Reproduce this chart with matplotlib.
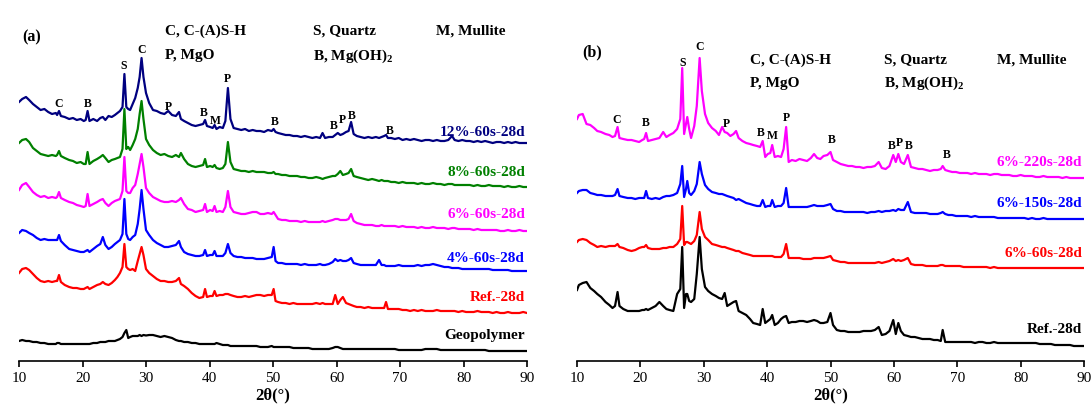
import matplotlib
matplotlib.use("Agg")
import matplotlib.pyplot as plt

plt.rcParams['font.family'] = ['Liberation Serif', 'DejaVu Serif']
plt.rcParams['mathtext.fontset'] = 'custom'
plt.rcParams['mathtext.rm'] = 'Liberation Serif'
plt.rcParams['mathtext.bf'] = 'Liberation Serif:bold'

# ---- panel (a): 2theta grid (deg) and stacked intensities (a.u.) ----
theta_a = [10.0, 10.5, 11.1, 11.6, 12.2, 12.8, 13.4, 14.0, 14.6, 15.2,
           15.8, 16.0, 16.3, 16.6, 17.2, 17.9, 18.5, 19.1, 19.7, 20.2,
           20.5, 20.8, 21.1, 21.7, 22.3, 22.8, 23.2, 23.6, 24.1, 24.6,
           25.1, 25.5, 25.9, 26.3, 26.6, 26.9, 27.2, 27.5, 27.9, 28.3,
           28.7, 29.0, 29.3, 29.6, 30.0, 30.5, 31.1, 31.7, 32.3, 32.9,
           33.5, 34.1, 34.7, 35.2, 35.5, 36.0, 36.6, 37.2, 37.8, 38.4,
           39.0, 39.3, 39.6, 40.1, 40.5, 40.8, 41.1, 41.6, 42.1, 42.5,
           42.9, 43.3, 43.8, 44.4, 45.0, 45.6, 46.2, 46.8, 47.4, 48.0,
           48.6, 49.2, 49.8, 50.1, 50.4, 50.8, 51.4, 52.0, 52.6, 53.2,
           53.8, 54.4, 55.0, 55.6, 56.2, 56.8, 57.4, 57.8, 58.2, 58.8,
           59.4, 59.8, 60.2, 60.6, 61.0, 61.5, 61.9, 62.3, 62.7, 63.2,
           63.8, 64.4, 65.0, 65.6, 66.2, 66.7, 67.1, 67.5, 67.8, 68.1,
           68.6, 69.2, 69.8, 70.4, 71.0, 71.6, 72.2, 72.8, 73.4, 74.0,
           74.6, 75.2, 75.8, 76.4, 77.0, 77.6, 78.2, 78.6, 79.2, 79.8,
           80.4, 81.0, 81.6, 82.2, 82.8, 83.4, 84.0, 84.6, 85.2, 85.8,
           86.4, 87.0, 87.6, 88.2, 88.8, 89.4, 90.0]

a_12 = [259, 262, 264, 261, 257, 254, 251, 252, 249, 247,
        248, 246, 250, 245, 244, 242, 243, 241, 242, 240,
        241, 250, 240, 242, 240, 243, 244, 241, 245, 244,
        246, 248, 250, 254, 287, 254, 252, 251, 257, 263,
        273, 284, 303, 284, 268, 258, 251, 250, 248, 247,
        250, 246, 245, 249, 242, 240, 238, 236, 235, 236,
        237, 241, 235, 234, 233, 236, 232, 234, 233, 240,
        273, 242, 233, 232, 231, 232, 230, 231, 230, 230,
        229, 231, 230, 232, 229, 228, 227, 226, 226, 225,
        225, 224, 225, 224, 223, 224, 223, 228, 223, 224,
        224, 226, 228, 226, 227, 229, 230, 239, 227, 225,
        224, 223, 224, 223, 224, 223, 224, 225, 226, 223,
        223, 222, 223, 221, 222, 221, 222, 221, 220, 221,
        221, 220, 221, 220, 220, 221, 225, 221, 220, 221,
        220, 220, 219, 220, 219, 220, 219, 218, 219, 219,
        218, 219, 218, 219, 218, 218, 218]

a_8 = [218, 221, 222, 219, 213, 210, 207, 206, 205, 206,
       205, 206, 210, 205, 203, 201, 200, 198, 199, 197,
       197, 209, 197, 200, 202, 204, 206, 203, 199, 201,
       202, 203, 204, 212, 252, 212, 214, 211, 216, 222,
       232, 247, 260, 242, 222, 216, 211, 208, 206, 207,
       205, 204, 206, 204, 208, 202, 197, 195, 194, 195,
       196, 202, 194, 195, 194, 196, 193, 192, 193, 197,
       219, 199, 192, 191, 190, 190, 189, 190, 189, 189,
       189, 188, 188, 189, 187, 187, 186, 186, 185, 185,
       185, 184, 184, 183, 183, 184, 183, 182, 183, 184,
       185, 185, 187, 190, 186, 187, 188, 192, 185, 184,
       183, 182, 181, 182, 181, 180, 181, 180, 180, 180,
       179, 179, 178, 179, 178, 178, 178, 177, 178, 177,
       177, 178, 177, 177, 176, 177, 177, 176, 176, 176,
       176, 176, 175, 176, 175, 175, 176, 175, 175, 175,
       174, 175, 174, 174, 175, 174, 174]

a_6 = [171, 176, 178, 174, 169, 166, 164, 165, 163, 164,
       163, 164, 169, 163, 161, 159, 158, 156, 155, 154,
       155, 167, 155, 157, 159, 161, 162, 158, 155, 158,
       160, 161, 162, 170, 204, 170, 168, 168, 173, 176,
       187, 197, 207, 194, 173, 168, 164, 162, 160, 159,
       159, 160, 159, 161, 163, 157, 152, 151, 149, 150,
       151, 157, 149, 151, 150, 155, 149, 150, 149, 154,
       170, 154, 149, 148, 147, 147, 148, 149, 149, 147,
       147, 148, 147, 149, 146, 142, 141, 141, 140, 140,
       140, 139, 140, 139, 139, 139, 139, 140, 139, 140,
       141, 142, 142, 141, 141, 141, 142, 147, 140, 138,
       137, 136, 136, 136, 135, 135, 136, 135, 135, 135,
       135, 135, 134, 135, 134, 134, 134, 133, 134, 133,
       133, 134, 133, 133, 133, 132, 133, 133, 132, 132,
       132, 132, 131, 132, 131, 131, 131, 131, 131, 130,
       130, 131, 130, 130, 131, 130, 130]

a_4 = [128, 131, 130, 128, 126, 123, 121, 122, 121, 121,
       121, 121, 126, 120, 116, 112, 111, 110, 109, 109,
       110, 111, 109, 112, 115, 117, 124, 116, 112, 114,
       117, 119, 121, 127, 162, 127, 122, 121, 124, 126,
       137, 152, 171, 152, 131, 126, 121, 118, 116, 114,
       114, 115, 116, 120, 114, 109, 107, 106, 105, 105,
       106, 111, 105, 106, 106, 110, 105, 105, 105, 108,
       117, 108, 105, 104, 104, 103, 103, 103, 102, 102,
       102, 103, 104, 114, 100, 98, 98, 97, 97, 97,
       97, 96, 97, 96, 96, 96, 97, 96, 96, 97,
       99, 102, 100, 101, 100, 100, 101, 103, 98, 97,
       96, 96, 96, 96, 96, 101, 96, 96, 95, 95,
       95, 95, 96, 95, 95, 95, 95, 96, 95, 96,
       96, 97, 96, 95, 94, 94, 93, 93, 93, 92,
       92, 92, 92, 92, 92, 92, 92, 91, 91, 91,
       91, 91, 90, 90, 90, 90, 90]

a_ref = [88, 92, 93, 91, 87, 83, 80, 79, 80, 79,
         80, 80, 86, 79, 76, 74, 73, 73, 72, 72,
         73, 74, 72, 74, 76, 77, 79, 77, 76, 78,
         81, 84, 88, 94, 117, 94, 92, 91, 92, 90,
         100, 107, 114, 106, 92, 88, 85, 82, 80, 80,
         79, 79, 80, 83, 77, 75, 72, 68, 65, 63,
         64, 72, 64, 65, 65, 70, 65, 66, 66, 67,
         67, 66, 65, 64, 64, 65, 64, 65, 66, 66,
         65, 66, 66, 72, 60, 59, 58, 58, 57, 58,
         57, 57, 57, 57, 57, 58, 57, 58, 57, 57,
         57, 66, 57, 61, 64, 58, 57, 56, 55, 54,
         54, 53, 54, 53, 53, 53, 53, 53, 59, 52,
         52, 52, 52, 51, 51, 50, 51, 50, 51, 50,
         50, 50, 51, 50, 50, 50, 50, 50, 49, 50,
         49, 49, 49, 50, 49, 49, 49, 48, 49, 48,
         48, 49, 48, 48, 48, 49, 48]

a_geo = [20, 21, 20, 20, 19, 19, 18, 18, 17, 17,
         17, 18, 18, 17, 17, 17, 17, 17, 17, 17,
         17, 17, 17, 18, 18, 19, 19, 19, 20, 20,
         20, 21, 22, 24, 28, 31, 23, 24, 25, 25,
         25, 26, 25, 26, 25.5, 26, 26, 25, 24, 25,
         24, 23, 21, 20, 20, 19, 19, 18, 18, 17,
         17, 17, 17, 17, 17, 17, 18, 17, 16, 16,
         16, 15, 15, 15, 15, 15, 15, 15, 15, 14,
         14, 14, 15, 14, 14, 14, 14, 14, 14, 13,
         13, 13, 13, 13, 12, 12, 12, 12, 12, 12,
         13, 14, 14, 13, 12, 12, 12, 12, 12, 12,
         12, 12, 12, 12, 12, 12, 12, 12, 12, 12,
         12, 12, 11, 11, 11, 11, 11, 11, 11, 12,
         12, 12, 12, 11, 11, 11, 11, 11, 11, 11,
         11, 11, 11, 11, 11, 11, 10, 10, 10, 10,
         10, 10, 10, 10, 10, 10, 10]

# ---- panel (b) ----
theta_b = [10.0, 10.3, 10.9, 11.5, 12.1, 12.7, 13.2, 13.8, 14.5, 15.1,
           15.6, 16.0, 16.4, 16.7, 17.3, 18.0, 18.6, 19.2, 19.8, 20.3,
           20.6, 20.9, 21.2, 21.8, 22.4, 23.0, 23.6, 24.1, 24.6, 25.2,
           25.8, 26.3, 26.6, 26.9, 27.2, 27.4, 27.7, 28.0, 28.5, 28.9,
           29.35, 29.7, 30.2, 30.7, 31.3, 31.9, 32.4, 32.9, 33.3, 33.7,
           34.2, 34.7, 35.1, 35.5, 36.1, 36.7, 37.3, 37.8, 38.4, 38.9,
           39.3, 39.7, 40.1, 40.5, 40.8, 41.2, 41.7, 42.2, 42.6, 43.0,
           43.4, 43.9, 44.5, 45.1, 45.7, 46.3, 46.9, 47.4, 47.9, 48.4,
           48.9, 49.5, 50.0, 50.4, 51.0, 51.6, 52.2, 52.8, 53.4, 54.0,
           54.6, 55.2, 55.8, 56.4, 57.0, 57.6, 58.1, 58.7, 59.3, 59.9,
           60.3, 60.7, 61.1, 61.6, 62.2, 62.7, 63.3, 63.9, 64.5, 65.1,
           65.7, 66.3, 66.9, 67.4, 67.7, 68.1, 68.6, 69.2, 69.8, 70.4,
           71.0, 71.6, 72.2, 72.8, 73.4, 74.0, 74.6, 75.2, 75.8, 76.4,
           77.0, 77.6, 78.2, 78.8, 79.4, 80.0, 80.6, 81.2, 81.8, 82.4,
           83.0, 83.6, 84.2, 84.8, 85.4, 86.0, 86.6, 87.2, 87.8, 88.4,
           89.0, 89.5, 90.0]

b_220 = [242, 246, 247, 237, 236, 233, 230, 229, 227, 226,
         224, 225, 234, 223, 222, 221, 221, 220, 219, 221,
         222, 228, 220, 221, 222, 223, 229, 224, 226, 228,
         232, 242, 293, 227, 237, 244, 232, 223, 235, 255,
         303, 270, 247, 238, 233, 230, 226, 234, 229, 228,
         225, 227, 230, 223, 220, 218, 217, 216, 215, 214,
         220, 204, 207, 208, 216, 204, 205, 204, 212, 234,
         199, 201, 200, 202, 201, 200, 203, 207, 203, 202,
         205, 206, 209, 201, 199, 197, 196, 195, 195, 194,
         194, 193, 194, 194, 195, 199, 193, 192, 195, 206,
         199, 207, 199, 197, 206, 194, 193, 192, 192, 191,
         190, 191, 191, 192, 195, 191, 190, 189, 189, 188,
         188, 188, 187, 188, 187, 187, 187, 186, 187, 187,
         186, 186, 186, 185, 185, 186, 185, 185, 185, 184,
         184, 185, 184, 184, 184, 184, 183, 184, 183, 183,
         183, 183, 183]

b_150 = [168, 170, 171, 171, 168, 167, 166, 166, 165, 165,
         165, 166, 172, 165, 164, 163, 163, 162, 163, 163,
         163, 170, 163, 162, 163, 162, 164, 165, 165, 166,
         168, 177, 195, 164, 172, 180, 168, 166, 170, 177,
         199, 187, 176, 172, 169, 168, 167, 167, 166, 165,
         164, 163, 161, 162, 160, 158, 157, 156, 155, 155,
         161, 154, 155, 155, 161, 154, 155, 155, 158, 173,
         154, 154, 154, 154, 154, 154, 155, 156, 155, 155,
         155, 156, 157, 152, 150, 150, 149, 149, 149, 149,
         149, 149, 148, 149, 149, 150, 149, 150, 150, 151,
         150, 152, 151, 151, 159, 149, 148, 148, 148, 148,
         147, 147, 147, 148, 149, 147, 146, 146, 145, 145,
         145, 145, 144, 145, 144, 144, 144, 144, 144, 143,
         143, 143, 143, 143, 143, 143, 143, 142, 143, 142,
         142, 143, 142, 142, 142, 142, 142, 142, 142, 142,
         142, 142, 142]

b_60 = [119, 121, 122, 121, 118, 116, 114, 115, 114, 115,
        115, 115, 117, 114, 113, 111, 110, 111, 113, 114,
        114, 116, 113, 112, 112, 112, 113, 113, 114, 114,
        117, 122, 155, 116, 119, 119, 118, 117, 120, 126,
        149, 132, 124, 121, 117, 116, 115, 114, 114, 113,
        112, 111, 110, 110, 108, 107, 106, 105, 105, 105,
        105, 105, 105, 105, 105, 104, 104, 104, 107, 117,
        103, 103, 103, 103, 102, 102, 102, 103, 103, 103,
        103, 104, 105, 101, 100, 99, 99, 98, 98, 98,
        98, 98, 98, 98, 98, 99, 98, 99, 100, 102,
        100, 101, 100, 101, 103, 97, 96, 96, 96, 95,
        95, 95, 95, 96, 96, 95, 95, 95, 95, 95,
        94, 94, 94, 94, 94, 94, 94, 93, 94, 93,
        93, 93, 93, 93, 93, 93, 93, 93, 93, 93,
        93, 93, 93, 93, 93, 93, 93, 93, 93, 93,
        93, 93, 93]

b_ref = [71, 76, 78, 79, 73, 70, 67, 64, 59, 56,
         53, 55, 69, 55, 52, 50, 50, 50, 50, 51,
         51, 52, 51, 53, 55, 59, 55, 52, 51, 50,
         67, 72, 114, 53, 67, 67, 60, 59, 62, 87,
         124, 92, 74, 70, 67, 65, 63, 62, 68, 55,
         57, 59, 60, 50, 48, 46, 42, 38, 37, 36,
         52, 38, 40, 42, 46, 36, 38, 42, 44, 45,
         38, 39, 39, 40, 40, 39, 40, 41, 40, 38,
         38, 39, 48, 36, 31, 30, 30, 29, 29, 29,
         29, 30, 30, 30, 31, 34, 26, 27, 30, 41,
         27, 38, 30, 26, 25, 24, 24, 23, 22, 22,
         22, 21, 21, 20, 31, 19, 19, 19, 19, 19,
         19, 19, 19, 18, 19, 19, 18, 18, 19, 18,
         18, 18, 18, 18, 18, 18, 18, 18, 18, 18,
         17, 17, 17, 17, 16, 16, 16, 16, 16, 15,
         15, 15, 15]

names_a = ['12%-60s-28d', '8%-60s-28d', '6%-60s-28d', '4%-60s-28d', 'Ref.-28d', 'Geopolymer']
colors_a = ['#000080', '#008000', '#ff00ff', '#0000ff', '#ff0000', '#000000']
name_y_a = [230, 189, 147, 103, 64.5, 26]

names_b = ['6%-220s-28d', '6%-150s-28d', '6%-60s-28d', 'Ref.-28d']
colors_b = ['#ff00ff', '#0000ff', '#ff0000', '#000000']
name_y_b = [199, 158.3, 108.6, 32.5]

# phase marks: letter, 2theta, height
marks_a = [('C', 16.3, 258), ('B', 20.8, 258), ('S', 26.55, 296), ('C', 29.3, 311.6), ('P', 33.5, 255),
           ('B', 39.1, 249), ('M', 41.0, 241), ('P', 42.9, 283), ('B', 50.3, 240), ('B', 59.6, 236),
           ('P', 60.9, 242), ('B', 62.4, 246), ('B', 68.4, 231)]
marks_b = [('C', 16.3, 242), ('B', 20.9, 239), ('S', 26.6, 299.4), ('C', 29.35, 315), ('P', 33.5, 238),
           ('B', 39.0, 229), ('M', 40.9, 226), ('P', 43.0, 244), ('B', 50.2, 222), ('B', 59.6, 216.4),
           ('P', 60.9, 219), ('B', 62.4, 216), ('B', 68.3, 207)]

legend_txt = [['C, C-(A)S-H', 'S, Quartz', 'M, Mullite'], ['P, MgO', r'B, Mg(OH)$_\mathbf{2}$', '']]


def draw_panel(ax, theta, curves, names, colors, name_y, marks, tag, tag_xy, leg_x, leg_y):
    for y, c, name, ny in zip(curves, colors, names, name_y):
        ax.plot(theta, y, color=c, lw=1.6)
        ax.text(89.7, ny, name, color=c, fontsize=11, fontweight='bold', ha='right', va='center')
    for m, t, y in marks:
        ax.text(t, y, m, fontsize=8.5, fontweight='bold', ha='center', va='center')
    ax.text(tag_xy[0], tag_xy[1], tag, fontsize=11.5, fontweight='bold', ha='left', va='center')
    for r, row in enumerate(legend_txt):
        for k, s in enumerate(row):
            ax.text(leg_x[k], leg_y[r], s, fontsize=11, fontweight='bold', ha='left', va='center')
    ax.set_xlim(10, 90)
    ax.set_ylim(0, 362)
    ax.set_xticks(range(10, 91, 10))
    ax.set_yticks([])
    for s in ['left', 'right', 'top']:
        ax.spines[s].set_visible(False)
    ax.spines['bottom'].set_linewidth(1.2)
    ax.tick_params(axis='x', direction='out', length=4, width=1.2, labelsize=11, pad=3)
    ax.set_xlabel('2θ(°)', fontsize=12, fontweight='bold', labelpad=2)
    ax.patch.set_alpha(0)


fig = plt.figure(figsize=(10.91, 4.10), dpi=100)
ax1 = fig.add_axes([19 / 1091, 48 / 410, 508 / 1091, 362 / 410])
ax2 = fig.add_axes([577 / 1091, 48 / 410, 507 / 1091, 362 / 410])

draw_panel(ax1, theta_a, [a_12, a_8, a_6, a_4, a_ref, a_geo], names_a, colors_a, name_y_a, marks_a,
           '(a)', (10.5, 325), [33.0, 56.3, 75.7], [331, 306])
draw_panel(ax2, theta_b, [b_220, b_150, b_60, b_ref], names_b, colors_b, name_y_b, marks_b,
           '(b)', (10.9, 310), [37.3, 58.4, 76.2], [302, 278.6])

fig.savefig('out.png', dpi=100)
